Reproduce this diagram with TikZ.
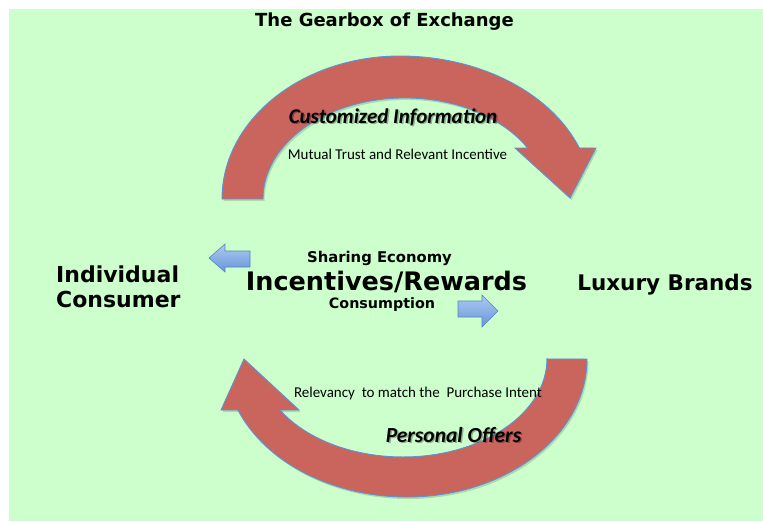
\documentclass[tikz,border=0pt]{standalone}
\usepackage{fontspec}
\newfontfamily\vfont{DejaVu Sans}
\newfontfamily\cfont{Carlito}
\definecolor{bg}{RGB}{204,255,204}
\definecolor{arrred}{RGB}{202,101,94}
\definecolor{arrline}{RGB}{96,146,210}
\definecolor{bluetop}{RGB}{172,202,242}
\definecolor{bluebot}{RGB}{104,150,216}
\definecolor{blueline}{RGB}{86,132,198}
\tikzset{
  bigarrow/.style={fill=arrred, draw=arrline, line width=0.9pt, line join=miter},
  bigshadow/.style={fill=black, opacity=0.15, draw=none},
  smallarrow/.style={top color=bluetop, bottom color=bluebot, draw=blueline, line width=0.6pt, line join=miter},
  vtext/.style={font=\vfont\bfseries, inner sep=0pt, anchor=base, text=black},
  ctext/.style={font=\cfont, inner sep=0pt, anchor=base, text=black},
  cbi/.style={font=\cfont\bfseries\itshape, inner sep=0pt, anchor=base, text=black},
  cshadow/.style={font=\cfont\bfseries\itshape, inner sep=0pt, anchor=base, text=black, opacity=0.3},
}
\begin{document}
\begin{tikzpicture}[x=1pt,y=-1pt]
\useasboundingbox (0,0) rectangle (763,522);
\fill[bg] (9,9) rectangle (763,521);

% top curved arrow
\def\toparrow{(222,199) arc[start angle=180,end angle=270,x radius=178,y radius=143]
  arc[start angle=270,end angle=339.1,x radius=192,y radius=143]
  -- (596,148) -- (570,198) -- (515,148) -- (527.6,148)
  arc[start angle=329.7,end angle=180,x radius=142,y radius=101] -- cycle}
% bottom curved arrow
\def\botarrow{(587,359) arc[start angle=0,end angle=90,x radius=180,y radius=138]
  arc[start angle=90,end angle=158.3,x radius=182,y radius=138]
  -- (221,410) -- (244,359) -- (299,410) -- (280,410)
  arc[start angle=148.6,end angle=0,x radius=144,y radius=98] -- cycle}

\fill[bigshadow, shift={(1.5,2)}] \toparrow;
\fill[bigshadow, shift={(1.5,2)}] \botarrow;
\path[bigarrow] \toparrow;
\path[bigarrow] \botarrow;

% small blue arrows
\path[smallarrow] (209,258) -- (225,244) -- (225,251) -- (250,251) -- (250,267) -- (225,267) -- (225,272) -- cycle;
\path[smallarrow] (498,311) -- (482,295) -- (482,301) -- (458,301) -- (458,317) -- (482,317) -- (482,327) -- cycle;

% texts
\node[vtext, font=\vfont\bfseries\fontsize{18}{20}\selectfont] (title) at (384.5,27) {The Gearbox of Exchange};
\node[vtext, font=\vfont\bfseries\fontsize{22}{25}\selectfont, anchor=base west, align=left] (consumer) at (56,307) {Individual\\Consumer};
\node[vtext, font=\vfont\bfseries\fontsize{21.5}{24}\selectfont] (brands) at (665,290) {Luxury Brands};
\node[vtext, font=\vfont\bfseries\fontsize{14.8}{17}\selectfont] (sharing) at (379.5,262) {Sharing Economy};
\node[vtext, font=\vfont\bfseries\fontsize{25.5}{28}\selectfont] (incent) at (386.5,290) {Incentives/Rewards};
\node[vtext, font=\vfont\bfseries\fontsize{14.3}{17}\selectfont] (consump) at (382,308) {Consumption};

\node[cshadow, font=\cfont\bfseries\itshape\fontsize{21}{24}\selectfont] (customsh) at (394.5,124.5) {Customized Information};
\node[cbi, font=\cfont\bfseries\itshape\fontsize{21}{24}\selectfont] (custom) at (393,123) {Customized Information};
\node[ctext, font=\cfont\fontsize{15}{18}\selectfont] (mutual) at (397.5,159) {Mutual Trust and Relevant Incentive};
\node[ctext, font=\cfont\fontsize{15}{18}\selectfont] (relev) at (418,397) {Relevancy\ \ to match the\ \ Purchase Intent};
\node[cshadow, font=\cfont\bfseries\itshape\fontsize{21.5}{24}\selectfont] (offersh) at (455,443.5) {Personal Offers};
\node[cbi, font=\cfont\bfseries\itshape\fontsize{21.5}{24}\selectfont] (offers) at (453.5,442) {Personal Offers};
\end{tikzpicture}
\end{document}
